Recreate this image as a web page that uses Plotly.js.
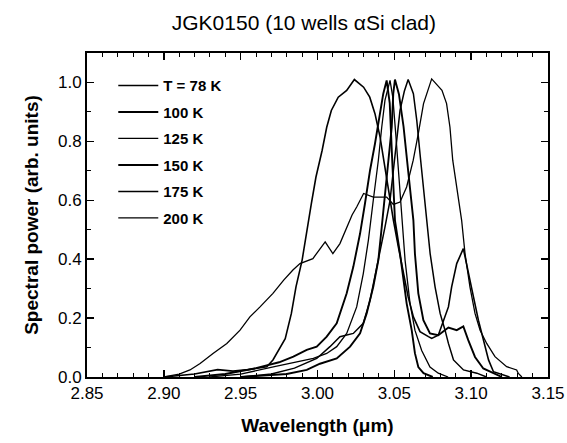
<!DOCTYPE html>
<html>
<head>
<meta charset="utf-8">
<script src="https://cdn.plot.ly/plotly-3.0.1.min.js"></script>
<style>html,body{margin:0;padding:0;background:#fff;}#chart{width:567px;height:443px;}</style>
</head>
<body>
<div id="chart"></div>
<script>
// ---- data (wavelength in µm, spectral power in arb. units) ----
const seriesNames = ["T = 78 K", "100 K", "125 K", "150 K", "175 K", "200 K"];

const wl78 = [2.90, 2.92, 2.935, 2.945, 2.955, 2.962, 2.967, 2.971, 2.976, 2.979, 2.983, 2.986, 2.990, 2.993, 2.996, 2.999, 3.003, 3.006, 3.009, 3.0135, 3.019, 3.024, 3.030, 3.034, 3.0374, 3.0407, 3.0428, 3.045, 3.0472, 3.0494, 3.0526, 3.056, 3.059, 3.0624, 3.0667, 3.0722, 3.0743, 3.0786, 3.082, 3.0852, 3.0873, 3.0906, 3.0949, 3.098, 3.1015, 3.1047, 3.108, 3.1113, 3.1145, 3.119, 3.125];
const sp78 = [0.0, 0.01, 0.025, 0.02, 0.025, 0.03, 0.035, 0.058, 0.103, 0.13, 0.216, 0.306, 0.397, 0.498, 0.589, 0.679, 0.769, 0.848, 0.905, 0.95, 0.973, 1.01, 0.984, 0.95, 0.894, 0.815, 0.747, 0.679, 0.6, 0.532, 0.442, 0.351, 0.272, 0.204, 0.154, 0.137, 0.131, 0.142, 0.193, 0.238, 0.306, 0.385, 0.436, 0.363, 0.272, 0.193, 0.125, 0.058, 0.018, 0.01, 0.0];

const wl100 = [2.92, 2.94, 2.96, 2.975, 2.9843, 2.993, 2.9995, 3.006, 3.0125, 3.019, 3.0233, 3.0277, 3.0309, 3.0342, 3.0374, 3.0407, 3.0428, 3.045, 3.047, 3.0485, 3.0504, 3.0537, 3.058, 3.0613, 3.0634, 3.0656, 3.069, 3.075];
const sp100 = [0.0, 0.01, 0.03, 0.05, 0.069, 0.092, 0.103, 0.137, 0.182, 0.284, 0.374, 0.487, 0.589, 0.702, 0.792, 0.894, 0.962, 1.007, 0.93, 0.75, 0.532, 0.419, 0.25, 0.159, 0.081, 0.034, 0.013, 0.0];

const wl125 = [2.93, 2.95, 2.972, 2.985, 2.9973, 3.006, 3.0125, 3.019, 3.0255, 3.0298, 3.0331, 3.0363, 3.0396, 3.0418, 3.0439, 3.0472, 3.049, 3.051, 3.053, 3.0548, 3.057, 3.0602, 3.0634, 3.0678, 3.0732, 3.0786, 3.085];
const sp125 = [0.0, 0.01, 0.035, 0.05, 0.063, 0.08, 0.103, 0.148, 0.238, 0.351, 0.464, 0.6, 0.736, 0.848, 0.939, 1.007, 0.95, 0.82, 0.68, 0.532, 0.396, 0.25, 0.159, 0.09, 0.034, 0.013, 0.0];

const wl150 = [2.95, 2.98, 2.993, 3.0016, 3.0125, 3.0212, 3.0277, 3.032, 3.0363, 3.0396, 3.0418, 3.0439, 3.0461, 3.0483, 3.0493, 3.0504, 3.053, 3.056, 3.059, 3.0624, 3.0634, 3.0656, 3.0689, 3.0732, 3.0786, 3.0852, 3.0906, 3.0949, 3.0981, 3.1025, 3.1079, 3.1144, 3.12];
const sp150 = [0.0, 0.01, 0.024, 0.045, 0.063, 0.103, 0.148, 0.216, 0.306, 0.397, 0.509, 0.623, 0.736, 0.848, 0.962, 1.01, 0.96, 0.85, 0.7, 0.532, 0.419, 0.284, 0.193, 0.148, 0.142, 0.168, 0.159, 0.172, 0.125, 0.068, 0.029, 0.012, 0.0];

const wl175 = [2.95, 2.97, 2.985, 2.9995, 3.0081, 3.0146, 3.0233, 3.0298, 3.0342, 3.0374, 3.0407, 3.0439, 3.0472, 3.0493, 3.0515, 3.0537, 3.0565, 3.059, 3.0624, 3.0646, 3.0667, 3.0689, 3.0711, 3.0733, 3.0765, 3.0798, 3.083, 3.0852, 3.0885, 3.095, 3.1037, 3.11];
const sp175 = [0.0, 0.01, 0.03, 0.063, 0.103, 0.137, 0.148, 0.182, 0.261, 0.34, 0.419, 0.509, 0.6, 0.702, 0.792, 0.905, 0.97, 1.01, 0.962, 0.871, 0.758, 0.645, 0.532, 0.419, 0.306, 0.216, 0.159, 0.114, 0.058, 0.024, 0.013, 0.0];

const wl200 = [2.90, 2.91, 2.917, 2.9236, 2.932, 2.941, 2.9496, 2.956, 2.9626, 2.971, 2.978, 2.984, 2.9886, 2.997, 3.005, 3.010, 3.0146, 3.0185, 3.0225, 3.0255, 3.03, 3.0363, 3.045, 3.0494, 3.0537, 3.058, 3.0623, 3.0656, 3.069, 3.0743, 3.081, 3.084, 3.0862, 3.088, 3.0916, 3.0938, 3.096, 3.0992, 3.1025, 3.1058, 3.1101, 3.1155, 3.1231, 3.1296, 3.1307, 3.133];
const sp200 = [0.0, 0.01, 0.024, 0.046, 0.08, 0.114, 0.159, 0.204, 0.238, 0.284, 0.329, 0.363, 0.385, 0.402, 0.459, 0.419, 0.453, 0.5, 0.55, 0.577, 0.623, 0.611, 0.611, 0.586, 0.594, 0.645, 0.736, 0.826, 0.928, 1.012, 0.973, 0.928, 0.848, 0.736, 0.6, 0.532, 0.419, 0.306, 0.216, 0.159, 0.114, 0.069, 0.035, 0.024, 0.012, 0.0];

const xTickVals = [2.85, 2.90, 2.95, 3.00, 3.05, 3.10, 3.15];
const yTickVals = [0.0, 0.2, 0.4, 0.6, 0.8, 1.0];

// ---- styling ----
const FONT = "Liberation Sans, Arial, Helvetica, sans-serif";
const xs = [wl78, wl100, wl125, wl150, wl175, wl200];
const ys = [sp78, sp100, sp125, sp150, sp175, sp200];
const widths = [1.6, 1.9, 1.3, 1.9, 1.5, 1.3];

const traces = seriesNames.map((n, i) => ({
  x: xs[i], y: ys[i], name: n, type: "scatter", mode: "lines",
  legendgroup: "g" + i,
  line: {color: "#000", width: widths[i]}
}));

const axisCommon = {
  showline: true, linecolor: "#000", linewidth: 2, mirror: "ticks",
  ticks: "inside", ticklen: 7, tickwidth: 1.5, tickcolor: "#000",
  showgrid: false, zeroline: false,
  tickfont: {family: FONT, size: 17, color: "#000"}
};

const layout = {
  width: 567, height: 443,
  margin: {l: 87, r: 19, t: 53, b: 66},
  paper_bgcolor: "#fff", plot_bgcolor: "#fff",
  font: {family: FONT, color: "#000"},
  title: {text: "JGK0150 (10 wells αSi clad)", font: {family: FONT, size: 21, color: "#000"},
          x: 0.536, xref: "container", xanchor: "center", y: 0.95, yref: "container", yanchor: "middle"},
  xaxis: Object.assign({}, axisCommon, {
    range: [2.85, 3.15], tickvals: xTickVals, tickformat: ".2f",
    minor: {dtick: 0.01, tick0: 2.85, ticks: "inside", ticklen: 4, tickwidth: 1, tickcolor: "#000"},
    title: {text: "<b>Wavelength (μm)</b>", font: {family: FONT, size: 19, color: "#000"}, standoff: 16}
  }),
  yaxis: Object.assign({}, axisCommon, {
    range: [0, 1.1], tickvals: yTickVals, tickformat: ".1f",
    minor: {dtick: 0.1, tick0: 0, ticks: "inside", ticklen: 4, tickwidth: 1, tickcolor: "#000"},
    title: {text: "<b>Spectral power (arb. units)</b>", font: {family: FONT, size: 19, color: "#000"}, standoff: 14}
  }),
  showlegend: true,
  legend: {x: 0.057, y: 0.95, xanchor: "left", yanchor: "top", bgcolor: "rgba(0,0,0,0)",
           font: {family: FONT, size: 15, color: "#000", weight: "bold"}, tracegroupgap: 4, itemwidth: 40}
};

Plotly.newPlot("chart", traces, layout, {staticPlot: true, displayModeBar: false});
</script>
</body>
</html>
